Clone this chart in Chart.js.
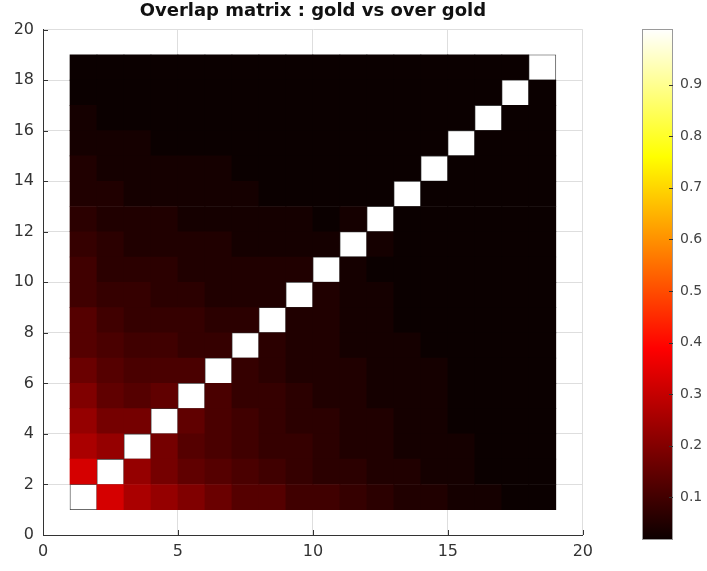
<!DOCTYPE html>
<html>
<head>
<meta charset="utf-8">
<script src="https://cdn.jsdelivr.net/npm/chart.js@4.4.1/dist/chart.umd.min.js"></script>
<style>
  html, body { margin: 0; padding: 0; background: #fff; }
  #wrap { position: relative; width: 707px; height: 571px; }
  #main { position: absolute; left: 0; top: 0; }
  #cbar { position: absolute; left: 600px; top: 0; }
</style>
</head>
<body>
<div id="wrap">
  <canvas id="main" width="600" height="571"></canvas>
  <canvas id="cbar" width="107" height="571"></canvas>
</div>
<script>
const TITLE = 'Overlap matrix : gold vs over gold';

// cell index along both axes (pcolor shows 18 x 18 cells, from 1 to 19)
const cellIdx = [1, 2, 3, 4, 5, 6, 7, 8, 9, 10, 11, 12, 13, 14, 15, 16, 17, 18];

// overlap values, one row per y cell (bottom to top)
const row01 = [1, .320, .255, .219, .190, .168, .139, .126, .106, .095, .080, .070, .059, .052, .043, .036, .029, .020];
const row02 = [.320, 1, .222, .177, .154, .136, .114, .102, .086, .077, .066, .058, .049, .043, .036, .031, .025, .017];
const row03 = [.255, .222, 1, .177, .139, .123, .103, .094, .079, .070, .060, .053, .045, .040, .033, .029, .023, .017];
const row04 = [.219, .177, .177, 1, .147, .114, .095, .086, .073, .066, .056, .050, .042, .038, .032, .027, .022, .016];
const row05 = [.190, .154, .139, .147, 1, .120, .087, .079, .068, .060, .052, .046, .039, .035, .029, .026, .021, .015];
const row06 = [.168, .136, .123, .114, .120, 1, .093, .074, .062, .056, .048, .043, .036, .033, .028, .024, .020, .015];
const row07 = [.139, .114, .103, .095, .087, .093, 1, .078, .058, .052, .045, .040, .034, .031, .026, .023, .019, .014];
const row08 = [.126, .102, .094, .086, .079, .074, .078, 1, .063, .049, .042, .037, .032, .029, .025, .022, .018, .014];
const row09 = [.106, .086, .079, .073, .068, .062, .058, .063, 1, .053, .039, .035, .030, .027, .023, .020, .017, .014];
const row10 = [.095, .077, .070, .066, .060, .056, .052, .049, .053, 1, .043, .032, .028, .026, .022, .020, .017, .013];
const row11 = [.080, .066, .060, .056, .052, .048, .045, .042, .039, .043, 1, .035, .026, .023, .020, .018, .016, .013];
const row12 = [.070, .058, .053, .050, .046, .043, .040, .037, .035, .032, .035, 1, .029, .022, .020, .017, .015, .012];
const row13 = [.059, .049, .045, .042, .039, .036, .034, .032, .030, .028, .026, .029, 1, .024, .018, .017, .014, .012];
const row14 = [.052, .043, .040, .038, .035, .033, .031, .029, .027, .026, .023, .022, .024, 1, .020, .016, .014, .011];
const row15 = [.043, .036, .033, .032, .029, .028, .026, .025, .023, .022, .020, .020, .018, .020, 1, .017, .013, .011];
const row16 = [.036, .031, .029, .027, .026, .024, .023, .022, .020, .020, .018, .017, .017, .016, .017, 1, .014, .011];
const row17 = [.029, .025, .023, .022, .021, .020, .019, .018, .017, .017, .016, .015, .014, .014, .013, .014, 1, .010];
const row18 = [.020, .017, .017, .016, .015, .015, .014, .014, .014, .013, .013, .012, .012, .011, .011, .011, .010, 1];
const overlap = [row01, row02, row03, row04, row05, row06, row07, row08, row09,
                 row10, row11, row12, row13, row14, row15, row16, row17, row18];

const xTicks = [0, 5, 10, 15, 20];
const yTicks = [0, 2, 4, 6, 8, 10, 12, 14, 16, 18, 20];
const cbTicks = [0.1, 0.2, 0.3, 0.4, 0.5, 0.6, 0.7, 0.8, 0.9];
const cRange = [0.017, 1.008];

const INK = '#333333';
const GRID = '#dedede';
Chart.defaults.font.family = '"DejaVu Sans", sans-serif';

// MATLAB hot(64)
function hot(v) {
  const t = Math.min(Math.max((v - cRange[0]) / (cRange[1] - cRange[0]), 0), 1);
  const i = Math.min(63, Math.floor(t * 64)) + 1;
  const r = Math.min(1, i / 24);
  const g = Math.min(1, Math.max(0, (i - 24) / 24));
  const b = Math.max(0, (i - 48) / 16);
  return `rgb(${Math.round(r * 255)},${Math.round(g * 255)},${Math.round(b * 255)})`;
}

function hotGradient(chart) {
  if (!chart.chartArea) return '#000';
  const y = chart.scales.y;
  const g = chart.ctx.createLinearGradient(0, y.getPixelForValue(cRange[0]), 0, y.getPixelForValue(cRange[1]));
  g.addColorStop(0, '#0b0000');
  g.addColorStop(3 / 8, '#ff0000');
  g.addColorStop(6 / 8, '#ffff00');
  g.addColorStop(1, '#ffffff');
  return g;
}

// matlab-style ticks pointing into the axes
const innerTicks = {
  id: 'innerTicks',
  afterDraw(chart) {
    const { ctx, chartArea: a, scales: { x, y } } = chart;
    ctx.save();
    ctx.strokeStyle = INK;
    ctx.lineWidth = 1;
    ctx.beginPath();
    x.ticks.forEach(t => {
      const px = Math.round(x.getPixelForValue(t.value)) + 0.5;
      ctx.moveTo(px, a.bottom);
      ctx.lineTo(px, a.bottom - 5);
    });
    y.ticks.forEach(t => {
      const py = Math.round(y.getPixelForValue(t.value)) + 0.5;
      ctx.moveTo(a.left, py);
      ctx.lineTo(a.left + 5, py);
    });
    ctx.stroke();
    ctx.restore();
  }
};

const cbTickMarks = {
  id: 'cbTickMarks',
  afterDatasetsDraw(chart) {
    const { ctx, chartArea: a, scales: { y } } = chart;
    ctx.save();
    ctx.strokeStyle = INK;
    ctx.lineWidth = 1;
    ctx.beginPath();
    y.ticks.forEach(t => {
      const py = Math.round(y.getPixelForValue(t.value)) + 0.5;
      ctx.moveTo(a.right - 4, py);
      ctx.lineTo(a.right, py);
    });
    ctx.stroke();
    ctx.restore();
  }
};

const datasets = overlap.map((row, r) => ({
  data: row.map((v, c) => ({ x: cellIdx[c] + 0.5, y: [cellIdx[r], cellIdx[r] + 1] })),
  backgroundColor: row.map(hot),
  // only the white diagonal cells show their dark pcolor edge
  borderColor: '#3a3a3a',
  borderWidth: row.map((v, c) => (c === r ? 0.8 : 0)),
  borderSkipped: false,
  grouped: false,
  barPercentage: 1,
  categoryPercentage: 1,
}));

new Chart(document.getElementById('main'), {
  type: 'bar',
  data: { datasets },
  options: {
    responsive: false,
    animation: false,
    layout: { padding: { left: 0, right: 14, top: 0, bottom: 0 } },
    plugins: {
      legend: { display: false },
      tooltip: { enabled: false },
      title: {
        display: true,
        text: TITLE,
        fullSize: false,
        color: '#111',
        font: { size: 18, weight: 'bold' },
        padding: { top: 1, bottom: 7 },
      },
    },
    scales: {
      x: {
        type: 'linear',
        min: 0, max: 20,
        offset: false,
        afterBuildTicks: s => { s.ticks = xTicks.map(value => ({ value })); },
        afterFit: s => { s.height = 36; },
        grid: { color: GRID, drawTicks: false, offset: false },
        border: { color: INK, width: 1 },
        ticks: { color: INK, padding: 7, font: { size: 16 } },
      },
      y: {
        type: 'linear',
        min: 0, max: 20,
        afterBuildTicks: s => { s.ticks = yTicks.map(value => ({ value })); },
        afterFit: s => { s.width = 43; },
        grid: { color: GRID, drawTicks: false },
        border: { color: INK, width: 1 },
        ticks: { color: INK, padding: 9, font: { size: 16 } },
      },
    },
  },
  plugins: [innerTicks],
});

new Chart(document.getElementById('cbar'), {
  type: 'bar',
  data: {
    labels: ['hot'],
    datasets: [{
      data: [cRange],
      backgroundColor: ctx => hotGradient(ctx.chart),
      borderColor: '#9a9a9a',
      borderWidth: 1,
      borderSkipped: false,
      barPercentage: 1,
      categoryPercentage: 1,
      inflateAmount: 0,
    }],
  },
  options: {
    responsive: false,
    animation: false,
    layout: { padding: { left: 42, right: 0, top: 29, bottom: 31 } },
    plugins: { legend: { display: false }, tooltip: { enabled: false } },
    scales: {
      x: { display: false },
      y: {
        position: 'right',
        min: cRange[0], max: cRange[1],
        afterBuildTicks: s => { s.ticks = cbTicks.map(value => ({ value })); },
        afterFit: s => { s.width = 34; },
        grid: { display: false, drawTicks: false },
        border: { display: false },
        ticks: { color: '#444', padding: 7, font: { size: 14 }, callback: v => v.toFixed(1) },
      },
    },
  },
  plugins: [cbTickMarks],
});
</script>
</body>
</html>
